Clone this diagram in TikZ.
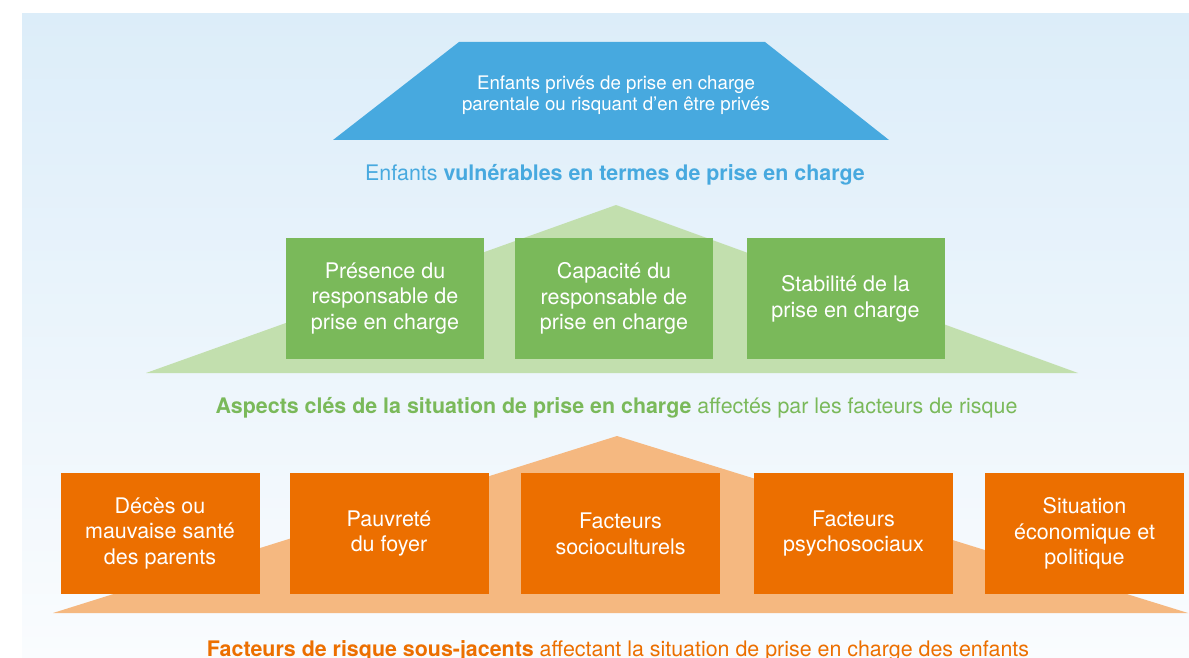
\documentclass[tikz,border=0pt]{standalone}
\usepackage{fontspec}
\setmainfont{TeX Gyre Heros}
\definecolor{bgtop}{HTML}{DCEDF9}
\definecolor{bgbot}{HTML}{FAFCFE}
\definecolor{cblue}{HTML}{47A9DF}
\definecolor{cgreen}{HTML}{7AB95A}
\definecolor{cgreenl}{HTML}{C2DFAE}
\definecolor{corange}{HTML}{EC6F00}
\definecolor{corangel}{HTML}{F5B880}
\begin{document}
\begin{tikzpicture}[x=1pt,y=-1pt,
  boxtext/.style={text=white, inner sep=0pt, align=center, font=\fontsize{21.5}{25.7}\selectfont},
  gbox/.style={boxtext, fill=cgreen, minimum width=198pt, minimum height=121pt},
  obox/.style={boxtext, fill=corange, minimum width=199pt, minimum height=121pt},
  caption/.style={anchor=base, inner sep=0pt, font=\fontsize{21.4}{24}\selectfont}]
\useasboundingbox (0,0) rectangle (1189,658);
\clip (0,0) rectangle (1189,658);
\shade[top color=bgtop, bottom color=bgbot] (22,14) rectangle (1189,658);

% top level
\fill[cblue] (459,42) -- (765,42) -- (889,140) -- (333,140) -- cycle;
\node[boxtext, font=\fontsize{18.7}{21.3}\selectfont] (deprived) at (616,95.5)
  {Enfants privés de prise en charge\\parentale ou risquant d’en être privés};
\node[caption, text=cblue] (capblue) at (615,181)
  {Enfants \textbf{vulnérables en termes de prise en charge}};

% middle level
\fill[cgreenl] (616,205) -- (1078,373) -- (146,373) -- cycle;
\node[gbox] (presence) at (385,298.5) {Présence du\\responsable de\\prise en charge};
\node[gbox] (capacite) at (614,298.5) {Capacité du\\responsable de\\prise en charge};
\node[gbox] (stabilite) at (845.5,298.5) {Stabilité de la\\prise en charge};
\node[caption, text=cgreen] (capgreen) at (616.5,413)
  {\textbf{Aspects clés de la situation de prise en charge} affectés par les facteurs de risque};

% bottom level
\fill[corangel] (617,436) -- (1188,613) -- (53,613) -- cycle;
\node[obox] (deces) at (160,533.5) {Décès ou\\mauvaise santé\\des parents};
\node[obox] (pauvrete) at (389,533.5) {Pauvreté\\du foyer};
\node[obox] (socio) at (620.5,533.5) {Facteurs\\socioculturels};
\node[obox] (psycho) at (853.5,533.5) {Facteurs\\psychosociaux};
\node[obox] (eco) at (1084.5,533.5) {Situation\\économique et\\politique};
\node[caption, text=corange] (caporange) at (618,656)
  {\textbf{Facteurs de risque sous-jacents} affectant la situation de prise en charge des enfants};
\end{tikzpicture}
\end{document}
